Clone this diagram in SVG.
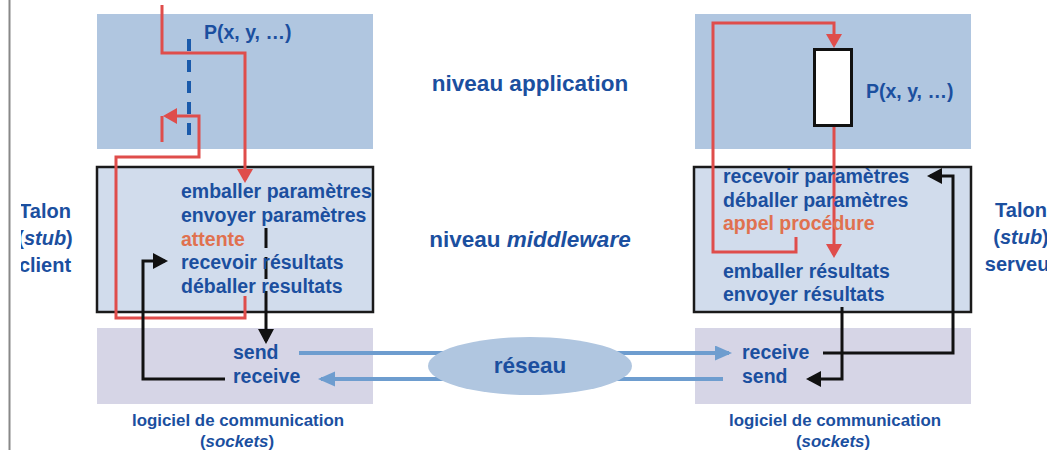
<svg xmlns="http://www.w3.org/2000/svg" width="1047" height="450" viewBox="0 0 1047 450">
<style>
.t{font-family:"Liberation Sans",Arial,sans-serif;font-weight:bold;fill:#1b4f9f;font-size:19.5px}
.o{fill:#e0714f}
.big{font-size:22.5px}
.sm{font-size:16.9px}
.tl{font-size:20px}
.app{fill:#b0c6e0}
.mid{fill:#d1dcec;stroke:#1a1a1a;stroke-width:2.5}
.com{fill:#d6d5e6}
.red{fill:none;stroke:#df4d4b;stroke-width:3}
.blk{fill:none;stroke:#111;stroke-width:3}
.blu{fill:none;stroke:#6e9dcf;stroke-width:4}
</style>
<defs>
<marker id="mr" markerUnits="userSpaceOnUse" markerWidth="16" markerHeight="17" refX="11" refY="8" orient="auto"><path d="M0,0 L14,8 L0,16 z" fill="#df4d4b"/></marker>
<marker id="mb" markerUnits="userSpaceOnUse" markerWidth="16" markerHeight="17" refX="12" refY="8" orient="auto"><path d="M0,0 L15,8 L0,16 z" fill="#111"/></marker>
<marker id="mu" markerUnits="userSpaceOnUse" markerWidth="18" markerHeight="16" refX="14" refY="7.5" orient="auto"><path d="M0,0 L17,7.5 L0,15 z" fill="#6e9dcf"/></marker>
<clipPath id="clipL"><rect x="21" y="0" width="200" height="450"/></clipPath>
</defs>
<rect width="1047" height="450" fill="#fff"/>
<line x1="9.5" y1="0" x2="9.5" y2="450" stroke="#888" stroke-width="2"/>

<g id="client-app"><rect class="app" x="97" y="14" width="276" height="135"/></g>
<g id="server-app"><rect class="app" x="695" y="14" width="276" height="135"/></g>
<g id="client-stub"><rect class="mid" x="97" y="167" width="276" height="145"/></g>
<g id="server-stub"><rect class="mid" x="694" y="167" width="277" height="145"/></g>
<g id="client-comm"><rect class="com" x="97" y="328" width="276" height="76"/></g>
<g id="server-comm"><rect class="com" x="695" y="328" width="276" height="76"/></g>

<g id="connectors">
<line x1="189" y1="39" x2="189" y2="137" stroke="#1a5aab" stroke-width="4" stroke-dasharray="12 9"/>
<path class="red" d="M162,5 V53 H245 V180" marker-end="url(#mr)"/>
<path class="red" d="M245,296 V318 H116 V157 H199 V116 H166" marker-end="url(#mr)"/>
<path class="red" d="M162,116 V142"/>
<path class="red" d="M796,237 V252 H713 V23 H834 V45" marker-end="url(#mr)"/>
<path class="red" d="M834,126 V255" marker-end="url(#mr)"/>
<path class="blk" d="M266,228 V341" stroke-dasharray="20 9 22 12 200" marker-end="url(#mb)"/>
<path class="blk" d="M225,379 H143 V261 H165" marker-end="url(#mb)"/>
<path class="blk" d="M823,353 H953 V176 H930" marker-end="url(#mb)"/>
<path class="blk" d="M842,307 V379 H809" marker-end="url(#mb)"/>
<path class="blu" d="M299,353 H729" marker-end="url(#mu)"/>
<path class="blu" d="M723,379 H321" marker-end="url(#mu)"/>
</g>

<g id="procedure"><rect x="814.5" y="49.5" width="37" height="76" fill="#fff" stroke="#111" stroke-width="3"/></g>
<g id="network"><ellipse cx="530" cy="366" rx="102" ry="29" fill="#b0c6e0"/><text class="t big" x="530" y="373" text-anchor="middle">réseau</text></g>

<g id="client-app-labels"><text class="t" x="204" y="39">P(x, y, …)</text></g>
<g id="server-app-labels"><text class="t" x="866" y="98">P(x, y, …)</text></g>
<g id="levels">
<text class="t big" x="530" y="91" text-anchor="middle">niveau application</text>
<text class="t big" x="530" y="247" text-anchor="middle">niveau <tspan font-style="italic">middleware</tspan></text>
</g>
<g id="client-stub-labels">
<text class="t" x="181" y="198">emballer paramètres</text>
<text class="t" x="181" y="222">envoyer paramètres</text>
<text class="t o" x="181" y="246">attente</text>
<text class="t" x="181" y="269">recevoir résultats</text>
<text class="t" x="181" y="293">déballer resultats</text>
</g>
<g id="server-stub-labels">
<text class="t" x="723" y="183">recevoir paramètres</text>
<text class="t" x="723" y="207">déballer paramètres</text>
<text class="t o" x="723" y="230">appel procédure</text>
<text class="t" x="723" y="278">emballer résultats</text>
<text class="t" x="723" y="301">envoyer résultats</text>
</g>
<g id="client-comm-labels">
<text class="t" x="233" y="359">send</text>
<text class="t" x="233" y="383">receive</text>
<text class="t sm" x="238" y="426" text-anchor="middle">logiciel de communication</text>
<text class="t sm" x="237" y="447" text-anchor="middle">(<tspan font-style="italic">sockets</tspan>)</text>
</g>
<g id="server-comm-labels">
<text class="t" x="742" y="359">receive</text>
<text class="t" x="742" y="383">send</text>
<text class="t sm" x="835" y="426" text-anchor="middle">logiciel de communication</text>
<text class="t sm" x="833" y="447" text-anchor="middle">(<tspan font-style="italic">sockets</tspan>)</text>
</g>
<g id="client-title" clip-path="url(#clipL)">
<text class="t tl" x="45" y="218" text-anchor="middle">Talon</text>
<text class="t tl" x="45" y="245" text-anchor="middle">(<tspan font-style="italic">stub</tspan>)</text>
<text class="t tl" x="45" y="272" text-anchor="middle">client</text>
</g>
<g id="server-title">
<text class="t tl" x="1021" y="217" text-anchor="middle">Talon</text>
<text class="t tl" x="1021" y="244" text-anchor="middle">(<tspan font-style="italic">stub</tspan>)</text>
<text class="t tl" x="1021" y="271" text-anchor="middle">serveur</text>
</g>
</svg>
